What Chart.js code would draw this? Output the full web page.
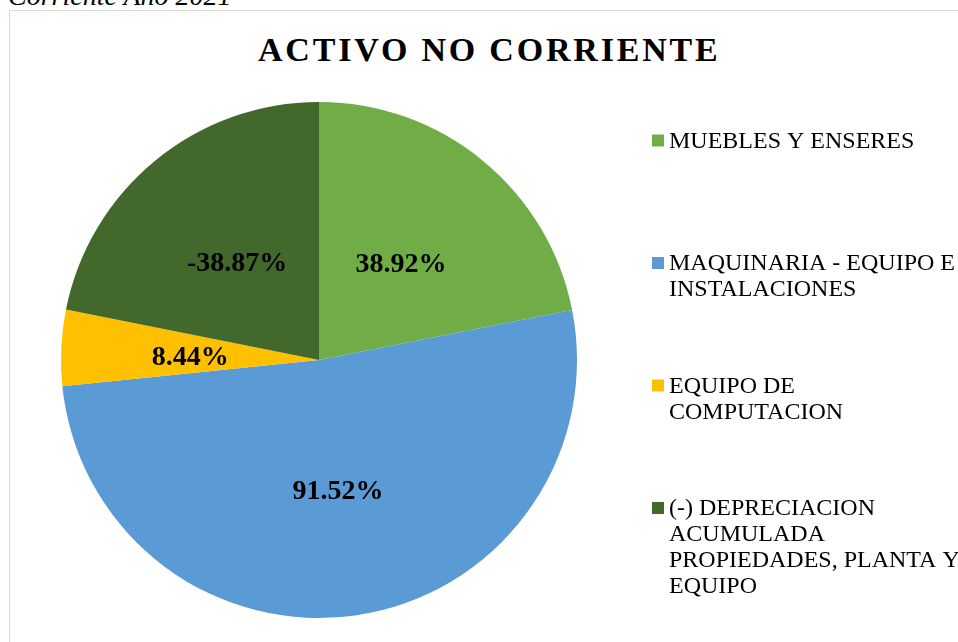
<!DOCTYPE html>
<html>
<head>
<meta charset="utf-8">
<script src="https://cdn.jsdelivr.net/npm/chart.js@4"></script>
<style>
  html, body { margin: 0; padding: 0; background: #fff; overflow: hidden; }
  body { width: 958px; height: 642px; position: relative; }
  #caption {
    position: absolute; left: 8px; top: -18.5px;
    font: italic 28px "Liberation Serif", "Times New Roman", serif;
    line-height: 28px; white-space: nowrap; color: #000;
  }
  #frame {
    position: absolute; left: 9px; top: 10px; width: 1000px; height: 700px;
    border: 1px solid #d9d9d9; box-sizing: border-box;
  }
  #title {
    position: absolute; left: 258px; top: 32.5px;
    font: bold 34px "Liberation Serif", "Times New Roman", serif;
    line-height: 34px; letter-spacing: 2.8px; white-space: nowrap; color: #000;
  }
  #pieChart { position: absolute; left: 0; top: 0; }
</style>
</head>
<body>
<div id="caption">Corriente Año 2021</div>
<div id="frame"></div>
<div id="title">ACTIVO NO CORRIENTE</div>
<canvas id="pieChart" width="958" height="642"></canvas>
<script>
// Chart data
const categories = [
  'MUEBLES Y ENSERES',
  'MAQUINARIA - EQUIPO E INSTALACIONES',
  'EQUIPO DE COMPUTACION',
  '(-) DEPRECIACION ACUMULADA PROPIEDADES, PLANTA Y EQUIPO'
];
const percentValues = [38.92, 91.52, 8.44, -38.87];
const sliceColors = ['#70AD47', '#5B9BD5', '#FFC000', '#43682B'];

// Split a label into lines that fit the legend width
function wrapText(ctx, text, maxWidth) {
  const words = text.split(' ');
  const lines = [];
  let current = '';
  words.forEach(word => {
    const test = current ? current + ' ' + word : word;
    if (current && ctx.measureText(test).width > maxWidth) {
      lines.push(current);
      current = word;
    } else {
      current = test;
    }
  });
  if (current) lines.push(current);
  return lines;
}

// Percent labels in the middle of each slice
const sliceLabels = {
  id: 'sliceLabels',
  afterDatasetsDraw(chart) {
    const ctx = chart.ctx;
    const meta = chart.getDatasetMeta(0);
    ctx.save();
    ctx.font = 'bold 28px "Liberation Serif", "Times New Roman", serif';
    ctx.fillStyle = '#000';
    ctx.textAlign = 'center';
    ctx.textBaseline = 'middle';
    meta.data.forEach((arc, i) => {
      const pos = arc.tooltipPosition();
      ctx.fillText(percentValues[i].toFixed(2) + '%', pos.x, pos.y + 4);
    });
    ctx.restore();
  }
};

// Legend on the right with wrapped text
const sideLegend = {
  id: 'sideLegend',
  afterDraw(chart) {
    const ctx = chart.ctx;
    const dataset = chart.data.datasets[0];
    ctx.save();
    ctx.font = '24px "Liberation Serif", "Times New Roman", serif';
    ctx.textBaseline = 'middle';
    chart.data.labels.forEach((label, i) => {
      const y = 141.5 + i * 122.5;
      ctx.fillStyle = dataset.backgroundColor[i];
      ctx.fillRect(652, y - 7, 12, 12);
      ctx.fillStyle = '#000';
      wrapText(ctx, label, 300).forEach((line, j) => {
        ctx.fillText(line, 669, y + j * 26);
      });
    });
    ctx.restore();
  }
};

const ctx = document.getElementById('pieChart').getContext('2d');
new Chart(ctx, {
  type: 'pie',
  data: {
    labels: categories,
    datasets: [{
      data: percentValues.map(v => Math.abs(v)),
      backgroundColor: sliceColors,
      borderWidth: 0
    }]
  },
  options: {
    responsive: false,
    animation: false,
    layout: {
      padding: { left: 61, right: 381, top: 102, bottom: 24 }
    },
    plugins: {
      legend: { display: false },
      tooltip: { enabled: false }
    }
  },
  plugins: [sliceLabels, sideLegend]
});
</script>
</body>
</html>
